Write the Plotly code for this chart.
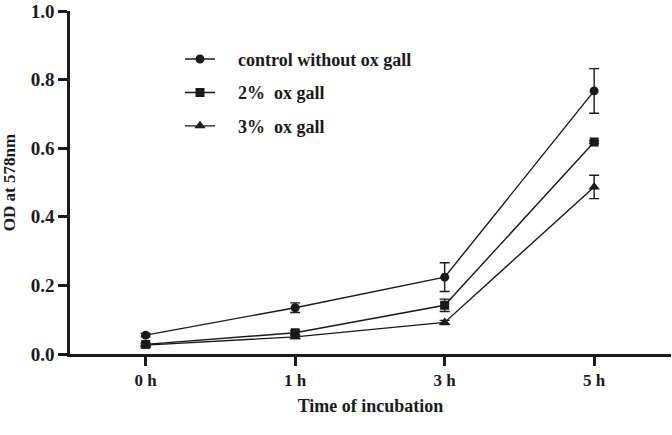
import plotly.graph_objects as go

times = ["0 h", "1 h", "3 h", "5 h"]
series_names = ["control without ox gall", "2%  ox gall", "3%  ox gall"]
control = [0.055, 0.135, 0.224, 0.767]
control_err = [0.005, 0.014, 0.042, 0.065]
gall2 = [0.028, 0.062, 0.142, 0.618]
gall2_err = [0.004, 0.006, 0.018, 0.004]
gall3 = [0.026, 0.050, 0.092, 0.487]
gall3_err = [0.003, 0.005, 0.006, 0.034]
symbols = ["circle", "square", "triangle-up"]
y_ticks = [0.0, 0.2, 0.4, 0.6, 0.8, 1.0]

FONT = "Liberation Serif, Times New Roman, serif"
fig = go.Figure()
for i, (name, ys, es) in enumerate(zip(series_names, [control, gall2, gall3], [control_err, gall2_err, gall3_err])):
    fig.add_trace(go.Scatter(
        x=times, y=ys, name="\u00a0\u00a0\u00a0\u00a0" + name, mode="lines+markers",
        legendgroup=str(i),
        line=dict(color="#1a1a1a", width=1.4),
        marker=dict(symbol=symbols[i], size=9 if i != 2 else 10, color="#1a1a1a"),
        error_y=dict(type="data", array=es, visible=True, color="#1a1a1a", thickness=1.4, width=5),
    ))

fig.update_layout(
    width=672, height=435,
    margin=dict(l=70, r=1, t=7, b=81),
    paper_bgcolor="white", plot_bgcolor="white",
    font=dict(family=FONT, size=17, color="#1a1a1a", weight="bold"),
    showlegend=True,
    legend=dict(x=(180 - 70) / 601, y=0.913, xanchor="left", yanchor="top", tracegroupgap=7,
                font=dict(family=FONT, size=18, weight="bold"), bgcolor="rgba(0,0,0,0)"),
    xaxis=dict(type="category", range=[-0.506, 3.514], showline=True, linecolor="#1a1a1a", linewidth=2.5,
               ticks="outside", ticklen=9, tickwidth=2.5, tickcolor="#1a1a1a", showgrid=False, zeroline=False,
               tickfont=dict(family=FONT, size=17, weight="bold"),
               title=dict(text="Time of incubation", standoff=11, font=dict(family=FONT, size=18, weight="bold"))),
    yaxis=dict(range=[0, 1.0], tickvals=y_ticks, tickformat=".1f", showline=True, linecolor="#1a1a1a", linewidth=2.5,
               ticks="outside", ticklen=9, tickwidth=2.5, tickcolor="#1a1a1a", showgrid=False, zeroline=False,
               ticklabeloverflow="allow",
               tickfont=dict(family=FONT, size=19, weight="bold"),
               title=dict(text="OD at 578nm", standoff=18, font=dict(family=FONT, size=17, weight="bold"))),
)
fig.write_html("out.html", config={"displayModeBar": False},
               post_script="document.body.style.margin='0';")
